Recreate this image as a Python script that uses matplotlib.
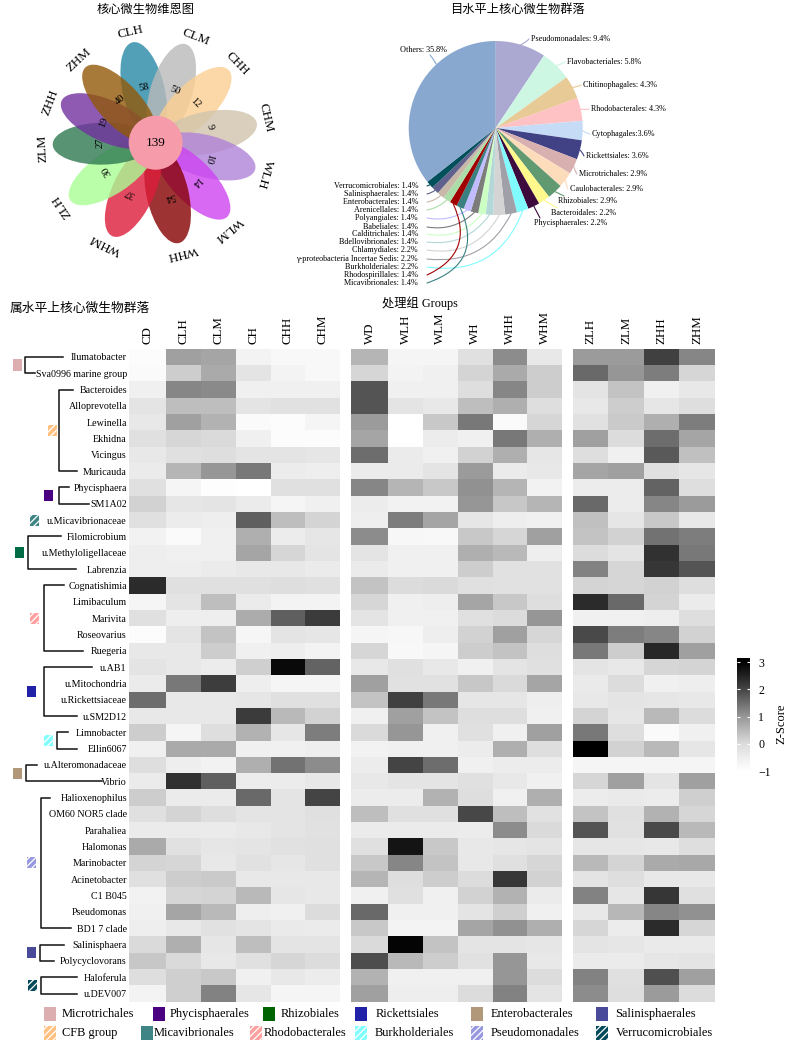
import numpy as np
import matplotlib
matplotlib.use('Agg')
import matplotlib.pyplot as plt
from matplotlib.colors import LinearSegmentedColormap
from matplotlib.patches import Ellipse, Circle, Rectangle

plt.rcParams['font.family'] = ['Liberation Serif', 'Noto Sans CJK SC']
plt.rcParams['hatch.color'] = 'white'
plt.rcParams['hatch.linewidth'] = 0.9

W, H = 800, 1044

# flower
petal_names = ['CLH', 'CLM', 'CHH', 'CHM', 'WLH', 'WLM', 'WHH', 'WHM', 'ZLH', 'ZLM', 'ZHH', 'ZHM']
petal_counts = [58, 50, 12, 9, 10, 14, 54, 37, 30, 27, 19, 40]
core_count = 139
petal_colors = ['#2788a6', '#bababa', '#fccf92', '#d1c4ab', '#b082d8', '#ce43f1',
	'#860001', '#dd1d3b', '#a9fe95', '#2e7951', '#73319f', '#925909']
petal_angles = [347, 17, 45, 79, 105, 136, 167, 205, 236, 269, 294, 317]
name_angles = [347, 21, 46, 77, 106, 140, 166, 206, 236, 267, 291, 317]
count_angles = [348, 20, 45, 74, 107, 134, 165, 207, 240, 270, 291, 320]

# pie
pie_labels = ['Pseudomonadales: 9.4%', 'Flavobacteriales: 5.8%', 'Chitinophagales: 4.3%', 'Rhodobacterales: 4.3%',
	'Cytophagales:3.6%', 'Rickettsiales: 3.6%', 'Microtrichales: 2.9%', 'Caulobacterales: 2.9%',
	'Rhizobiales: 2.9%', 'Bacteroidales: 2.2%', 'Phycisphaerales: 2.2%', 'Burkholderiales: 2.2%',
	'γ-proteobacteria Incertae Sedis: 2.2%', 'Chlamydiales: 2.2%', 'Bdellovibrionales: 1.4%',
	'Calditrichales: 1.4%', 'Babeliales: 1.4%', 'Polyangiales: 1.4%', 'Micavibrionales: 1.4%',
	'Rhodospirillales: 1.4%', 'Arenicellales: 1.4%', 'Enterobacterales: 1.4%', 'Salinisphaerales: 1.4%',
	'Verrucomicrobiales: 1.4%', 'Others: 35.8%']
pie_values = [9.4, 5.8, 4.3, 4.3, 3.6, 3.6, 2.9, 2.9, 2.9, 2.2, 2.2, 2.2, 2.2, 2.2,
	1.4, 1.4, 1.4, 1.4, 1.4, 1.4, 1.4, 1.4, 1.4, 1.4, 35.8]
pie_colors = ['#aba8d2', '#cdf6e3', '#e8ca96', '#ffc2c4', '#c6dcf6', '#414185', '#d8b0b0', '#fddcbc',
	'#619a70', '#fff88c', '#3c0a3c', '#80fcff', '#a0a0a8', '#d4d4d4', '#b4d8d8', '#ccffc4', '#7c7c7c',
	'#c0bcff', '#3a8080', '#a00000', '#aadda8', '#c8b8a8', '#60608c', '#00505c', '#88a8d0']
# label anchor in pixels and how much each leader bends
label_x = [531, 567, 583, 591, 592, 586, 579, 570, 558, 551, 534, 418, 418, 418, 418, 418, 418, 418, 418, 418, 418, 418, 418, 418, 400]
label_y = [39, 62, 85, 109, 134, 156, 174, 189, 201, 213, 223, 267, 259, 250, 242, 234, 227, 218, 283, 275, 210, 202, 194, 186, 50]
leader_bend = [0.1, 0.1, 0.1, 0.1, 0.1, -0.1, 0.1, 0.1, 0, 0, 0, -0.4, -0.35, -0.35, -0.3, -0.3, -0.25, -0.2, -0.55, -0.5, -0.15, -0.15, -0.1, -0.05, 0.05]

# heatmap
col_names_c = ['CD', 'CLH', 'CLM', 'CH', 'CHH', 'CHM']
col_names_w = ['WD', 'WLH', 'WLM', 'WH', 'WHH', 'WHM']
col_names_z = ['ZLH', 'ZLM', 'ZHH', 'ZHM']
genera = ['Ilumatobacter', 'Sva0996 marine group', 'Bacteroides', 'Alloprevotella', 'Lewinella', 'Ekhidna',
	'Vicingus', 'Muricauda', 'Phycisphaera', 'SM1A02', 'u.Micavibrionaceae', 'Filomicrobium',
	'u.Methyloligellaceae', 'Labrenzia', 'Cognatishimia', 'Limibaculum', 'Marivita', 'Roseovarius',
	'Ruegeria', 'u.AB1', 'u.Mitochondria', 'u.Rickettsiaceae', 'u.SM2D12', 'Limnobacter', 'Ellin6067',
	'u.Alteromonadaceae', 'Vibrio', 'Halioxenophilus', 'OM60 NOR5 clade', 'Parahaliea', 'Halomonas',
	'Marinobacter', 'Acinetobacter', 'C1 B045', 'Pseudomonas', 'BD1 7 clade', 'Salinisphaera',
	'Polycyclovorans', 'Haloferula', 'u.DEV007']

scores_c = [
	[-.91, .86, .79, -.66, -.8, -.8],
	[-.86, .21, .71, -.23, -.66, -.8],
	[-.57, 1.19, 1.15, -.57, -.57, -.57],
	[-.23, .43, .43, -.23, -.17, -.17],
	[-.34, .86, .6, -.86, -.91, -.71],
	[-.14, .07, .03, -.57, -.91, -.91],
	[-.34, -.14, -.06, -.23, -.23, -.29],
	[-.43, .57, 1, 1.38, -.46, -.51],
	[-.14, -.71, -.94, -1, -.14, -.14],
	[.14, -.29, -.23, -.43, -.71, -.57],
	[-.14, -.46, -.51, 1.69, .43, .11],
	[-.63, -.86, -.57, .64, -.46, -.29],
	[-.51, -.57, -.57, .79, .07, -.23],
	[-.51, -.51, -.43, -.34, -.34, -.43],
	[2.36, -.14, -.14, -.14, -.06, -.11],
	[-.71, -.23, .43, -.43, -.66, -.66],
	[-.14, -.51, -.51, .69, 1.69, 2.14],
	[-.91, -.23, .36, -.74, -.23, -.29],
	[-.34, -.34, .21, -.57, -.51, -.66],
	[-.23, -.34, -.46, .17, 2.86, 1.63],
	[-.43, 1.38, 2.11, -.51, -.71, -.71],
	[1.5, -.34, -.34, -.29, -.14, -.14],
	[-.34, -.34, -.34, 2.14, .5, .14],
	[.21, -.71, -.06, .6, -.29, 1.31],
	[-.57, .71, .71, -.57, -.57, -.51],
	[-.06, -.51, -.63, .64, 1.44, 1.13],
	[-.43, 2.29, 1.69, -.46, -.46, -.34],
	[.21, -.43, -.43, 1.56, -.23, 2],
	[-.14, .11, -.06, -.23, -.23, -.14],
	[-.43, -.43, -.43, -.34, -.23, -.17],
	[.71, -.17, -.29, -.23, -.17, -.11],
	[.11, .07, -.34, -.17, -.29, -.11],
	[-.14, .21, .26, -.34, -.34, -.34],
	[-.63, .07, .11, .5, -.29, -.34],
	[-.57, .79, .5, -.51, -.57, 0],
	[-.51, -.34, -.17, -.23, -.4, -.43],
	[.03, .64, -.29, .43, -.23, -.23],
	[.31, .03, -.34, -.11, .07, 0],
	[-.06, .17, .29, -.57, -.34, -.46],
	[-.66, .17, 1.25, -.29, -.71, -.71],
]
scores_w = [
	[.57, -.71, -.71, -.14, 1.13, -.34],
	[.07, -.66, -.57, .11, .71, .21],
	[1.81, -.57, -.57, -.06, 1.19, .21],
	[1.81, -.23, -.34, .43, .64, -.06],
	[.93, -1, .29, 1.38, -.86, .07],
	[.79, -1, -.46, -.57, 1.38, .64],
	[1.5, -.43, -.57, .14, .64, -.29],
	[-.43, -.43, -.23, .93, -.43, -.34],
	[1.19, .57, .29, 1.06, .57, -.63],
	[-.46, -.63, -.63, 1, .31, .57],
	[-.51, 1.31, .79, -.29, -.51, -.57],
	[1.13, -.77, -.8, .29, .07, .86],
	[-.23, -.57, -.57, .64, .5, -.51],
	[-.43, -.57, -.57, .21, -.17, -.17],
	[.36, 0, .03, -.14, -.17, -.17],
	[.07, -.57, -.51, .79, .29, -.06],
	[-.23, -.57, -.57, -.14, 0, 1],
	[-.71, -.77, -.51, .14, .86, .07],
	[.07, -.8, -.71, .21, .36, -.06],
	[-.34, -.14, -.34, -.57, -.23, -.11],
	[.86, -.17, -.17, .31, .03, .79],
	[.36, 2.07, 1.38, -.29, -.29, -.51],
	[-.57, .86, .36, -.06, -.06, -.57],
	[.03, 1, -.57, -.14, -.57, .86],
	[-.63, -.57, -.57, -.46, .64, -.06],
	[-.46, 2, 1.5, -.57, -.46, -.46],
	[-.34, -.23, -.23, -.14, -.34, -.57],
	[-.46, -.46, .6, -.06, -.57, .64],
	[.43, -.14, -.14, 1.98, .43, -.17],
	[-.43, -.43, -.43, -.46, 1.13, .03],
	[-.14, 2.71, .29, -.34, -.29, -.23],
	[.29, 1.19, .36, -.34, -.11, .07],
	[.57, -.06, .21, 0, 2.21, .14],
	[-.57, -.14, -.57, .14, .6, -.43],
	[1.56, -.57, -.57, -.23, .17, -.57],
	[.29, -.66, -.66, .79, 1.06, .64],
	[.03, 2.93, .36, -.23, -.23, -.29],
	[1.9, .5, .21, -.17, 1, -.34],
	[.6, -.57, -.57, -.57, 1, 0],
	[.86, -.51, -.51, 0, 1.25, -.23],
]
scores_z = [
	[.93, .93, 2.07, 1.19],
	[1.56, 1, 1.31, .07],
	[-.23, .36, -.57, -.34],
	[-.34, .21, -.29, -.06],
	[-.17, .26, .64, 1.31],
	[.86, 0, 1.5, .79],
	[-.06, -.57, 1.75, .4],
	[.79, .86, -.14, -.29],
	[-.46, -.46, 1.63, -.06],
	[1.56, -.46, 1.19, .93],
	[.4, -.29, .29, -.34],
	[.36, .14, 1.44, 1.31],
	[0, -.23, 2.29, 1.38],
	[1.25, .07, 2.21, 1.81],
	[.11, .07, .14, -.06],
	[2.36, 1.56, .11, -.43],
	[-.57, -.57, -.51, -.06],
	[1.94, 1.31, 1.19, .14],
	[1.38, .21, 2.43, .86],
	[-.23, -.34, .07, .11],
	[-.4, 0, -.57, -.51],
	[-.34, -.23, -.29, -.34],
	[.11, -.29, .5, 0],
	[1.38, -.06, -.86, -.57],
	[3, .14, .5, -.29],
	[-.71, -.71, -.71, -.71],
	[.07, .86, -.23, .86],
	[-.46, -.4, -.46, .17],
	[.36, -.14, .6, .07],
	[1.81, -.17, 1.94, .5],
	[-.29, -.29, -.34, -.06],
	[.5, .11, .71, .74],
	[-.23, -.06, -.34, -.34],
	[1.25, -.29, 2.21, -.14],
	[-.34, .54, 1.19, 1.06],
	[.07, -.46, 2.36, .07],
	[-.23, -.29, -.4, -.4],
	[-.43, -.43, -.29, -.23],
	[1.25, -.14, 1.88, .86],
	[1.13, -.06, .93, 0],
]

# clades next to the heatmap: first row, last row, colour, hatch
clade_first = [0, 2, 8, 10, 11, 14, 19, 23, 25, 27, 36, 38]
clade_last = [1, 7, 9, 10, 13, 18, 22, 24, 26, 35, 37, 39]
clade_colors = ['#dcaeb0', '#ffc080', '#4b0082', '#3f8585', '#006b45', '#ffa0a0', '#2222a8', '#80ffff',
	'#b09878', '#9898e0', '#4a4a9a', '#004a5c']
clade_hatch = [None, '/////', None, '/////', None, '/////', None, '/////', None, '/////', None, '/////']
# tree layout in pixels
patch_x = [13, 48, 44, 30, 15, 30, 27, 44, 13, 27, 27, 28]
bracket_x = [24.5, 59, 59, None, 28, 44, 44, 57, 25.5, 41, 39.5, 40.5]
top_end = [63, 73, 69, None, 61, 64, 92, 68, 37, 50, 64, 77]
bottom_end = [35, 77, 89, None, 76, 83, 77, 77, 102, 71, 54, 77]

legend_names = ['Microtrichales', 'Phycisphaerales', 'Rhizobiales', 'Rickettsiales', 'Enterobacterales', 'Salinisphaerales',
	'CFB group', 'Micavibrionales', 'Rhodobacterales', 'Burkholderiales', 'Pseudomonadales', 'Verrucomicrobiales']
legend_colors = ['#dcaeb0', '#4b0082', '#006400', '#2222a8', '#b09878', '#4a4a9a',
	'#ffc080', '#3f8585', '#ffa0a0', '#80ffff', '#9898e0', '#004a5c']
legend_hatch = [None, None, None, None, None, None, '/////', None, '/////', '/////', '/////', '/////']
legend_patch_x = [44, 153, 263, 355, 471, 596, 44, 141, 250, 355, 471, 596]
legend_text_x = [62, 170, 281, 376, 491, 615, 62, 154, 264, 375, 491, 616]


def px_axes(x0, y0, x1, y1):
	# axes from pixel box, y measured from the top
	return fig.add_axes([x0/W, 1-y1/H, (x1-x0)/W, (y1-y0)/H])


fig = plt.figure(figsize=(W/100, H/100), dpi=100)

# ---- flower ----
cx, cy = 155.7, 142.7
ax = px_axes(0, 0, 290, 290)
ax.set_xlim(-cx, 290-cx)
ax.set_ylim(cy-290, cy)
ax.axis('off')
for i in range(12):
	t = np.radians(petal_angles[i])
	ax.add_patch(Ellipse((53*np.sin(t), 53*np.cos(t)), 100, 42, angle=90-petal_angles[i],
		facecolor=petal_colors[i], alpha=0.8, lw=0))
for i in range(12):
	t = np.radians(name_angles[i])
	ax.text(113*np.sin(t), 113*np.cos(t), petal_names[i], rotation=-name_angles[i],
		rotation_mode='anchor', ha='center', va='center', fontsize=9.4)
	t = np.radians(count_angles[i])
	ax.text(56*np.sin(t), 56*np.cos(t), str(petal_counts[i]), rotation=-count_angles[i],
		rotation_mode='anchor', ha='center', va='center', fontsize=7.5)
ax.add_patch(Circle((0, 0), 27, facecolor='#f59baa', lw=0))
ax.text(0, 0, str(core_count), ha='center', va='center', fontsize=9.5)

# ---- pie ----
px, py, R = 495.7, 128, 87
ax = px_axes(px-R, py-R, px+R, py+R)
wedges, _ = ax.pie(pie_values, colors=pie_colors, startangle=90, counterclock=False, radius=1)
ax.set_xlim(-1, 1)
ax.set_ylim(-1, 1)
for i, w in enumerate(wedges):
	w.set_linewidth(0)
	mid = np.radians((w.theta1+w.theta2)/2)
	if i == 24:
		mid = np.radians(133)  # the Others leader leaves high up on the wedge
	lx = (label_x[i]-px)/R
	ly = (py-label_y[i])/R
	left = i >= 11 and i < 24
	ax.text(lx, ly, pie_labels[i], ha='right' if left else 'left', va='center', fontsize=5.9, clip_on=False)
	if left:
		end = (lx+9/R, ly)
	elif i == 24:
		end = (lx+30/R, ly-5/R)
	elif i >= 8:
		end = (lx+6/R, ly+5/R)
	else:
		end = (lx-2/R, ly)
	ax.annotate('', xy=end, xytext=(np.cos(mid), np.sin(mid)), annotation_clip=False,
		arrowprops=dict(arrowstyle='-', color=pie_colors[i], lw=0.8, shrinkA=0, shrinkB=0,
			connectionstyle='arc3,rad=%g' % leader_bend[i]))

# ---- heatmap ----
z_nodes = [-1, 0, 1, 2, 3, 3.15]
g_nodes = [1.0, 0.86, 0.59, 0.27, 0.0, 0.0]
vmin, vmax = z_nodes[0], z_nodes[-1]
cmap = LinearSegmentedColormap.from_list('zgray',
	[((z-vmin)/(vmax-vmin), (g, g, g)) for z, g in zip(z_nodes, g_nodes)])

row_edges = np.arange(41)
y0, y1 = 348.7, 1001.7
edges_wide = np.array([0, 37.4, 72.1, 106.8, 141.5, 176.2, 210.9])
edges_even = np.arange(5)

for scores, names, box, xe in [(scores_c, col_names_c, (129, 339.9), edges_wide),
		(scores_w, col_names_w, (351, 561.9), edges_wide),
		(scores_z, col_names_z, (572.7, 714.7), edges_even)]:
	ax = px_axes(box[0], y0, box[1], y1)
	ax.pcolormesh(xe, row_edges, np.array(scores), cmap=cmap, vmin=vmin, vmax=vmax, linewidth=0, rasterized=True)
	ax.set_ylim(40, 0)
	ax.set_xlim(xe[0], xe[-1])
	ax.set_xticks((xe[:-1]+xe[1:])/2)
	ax.set_xticklabels(names, rotation=90, fontsize=9.3)
	ax.xaxis.tick_top()
	ax.tick_params(axis='x', length=0, pad=3.5)
	ax.set_yticks([])
	for s in ax.spines.values():
		s.set_visible(False)
	if names is col_names_c:
		ax.set_yticks(row_edges[:-1]+0.5)
		ax.set_yticklabels(genera, fontsize=7.2)
		ax.tick_params(axis='y', length=0, pad=1.5)

# ---- tree and clade squares ----
ax = px_axes(0, y0, 129, y1)
ax.set_xlim(0, 129)
ax.set_ylim(40, 0)
ax.axis('off')
ax.patch.set_alpha(0)
for i in range(12):
	a = clade_first[i]+0.5
	b = clade_last[i]+0.5
	mid = (a+b)/2
	ax.add_patch(Rectangle((patch_x[i], mid-0.34), 9, 0.68, facecolor=clade_colors[i],
		edgecolor='white', hatch=clade_hatch[i], lw=0))
	if bracket_x[i] is not None:
		ax.plot([top_end[i], bracket_x[i], bracket_x[i], bottom_end[i]], [a, a, b, b], color='#111111', lw=1.1)

# ---- colorbar ----
ax = px_axes(737, 658, 750, 771)
sm = plt.cm.ScalarMappable(cmap=cmap, norm=plt.Normalize(vmin, vmax))
cb = fig.colorbar(sm, cax=ax, ticks=[-1, 0, 1, 2, 3])
cb.outline.set_visible(False)
cb.ax.tick_params(length=0, labelsize=8.5, pad=6)
for v in [0, 1, 2, 3]:
	cb.ax.hlines(v, 0, 0.2, color='white', lw=0.8, transform=cb.ax.get_yaxis_transform())
	cb.ax.hlines(v, 0.8, 1, color='white', lw=0.8, transform=cb.ax.get_yaxis_transform())

# ---- legend and titles on a full page axes ----
ax = px_axes(0, 0, W, H)
ax.set_xlim(0, W)
ax.set_ylim(H, 0)
ax.axis('off')
ax.patch.set_alpha(0)
for i in range(12):
	top = 1007 if i < 6 else 1026
	ax.add_patch(Rectangle((legend_patch_x[i], top), 12, 14, facecolor=legend_colors[i],
		edgecolor='white', hatch=legend_hatch[i], lw=0))
	ax.text(legend_text_x[i], top+7, legend_names[i], ha='left', va='center', fontsize=8.9)

ax.text(146, 10, '核心微生物维恩图', ha='center', va='center', fontsize=8.8)
ax.text(517.7, 10, '目水平上核心微生物群落', ha='center', va='center', fontsize=8.8)
ax.text(10, 309, '属水平上核心微生物群落', ha='left', va='center', fontsize=9.2)
ax.text(382, 303, '处理组 Groups', ha='left', va='center', fontsize=8.8)
ax.text(781, 724, 'Z-Score', rotation=90, ha='center', va='center', fontsize=9)

fig.savefig('out.png', dpi=100)
